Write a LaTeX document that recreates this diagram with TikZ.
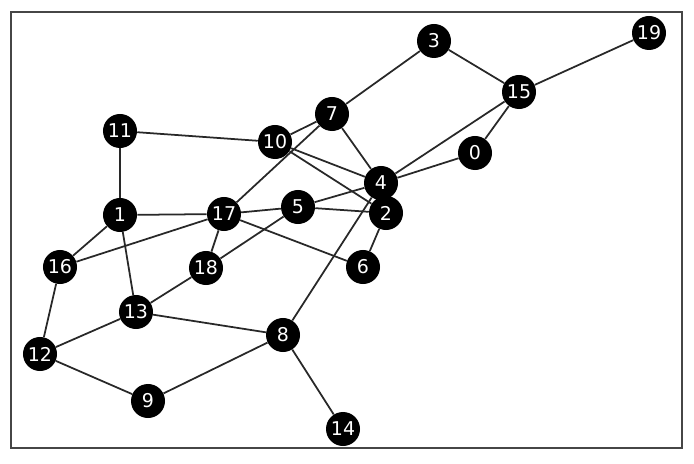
\documentclass[tikz,border=0pt]{standalone}
\usepackage{fontspec}
\setmainfont{DejaVu Sans}
\definecolor{edgegray}{RGB}{40, 40, 40}
\definecolor{framegray}{RGB}{70, 70, 70}

\begin{document}
\begin{tikzpicture}[x=0.025cm, y=-0.025cm,
    every node/.style={font=\fontsize{13.5}{15}\selectfont},
    vtx/.style={circle, fill=black, text=white, inner sep=0pt,
                minimum size=0.85cm},
    link/.style={draw=edgegray, line width=1.25pt}]
        \useasboundingbox (0,0) rectangle (694,464);
        \draw[framegray, line width=1.2pt] (11,12) rectangle (682,448);
        % vertices
        \node[vtx] (n0) at (475,153) {0};
        \node[vtx] (n1) at (120,215) {1};
        \node[vtx] (n2) at (386,213) {2};
        \node[vtx] (n3) at (434,41) {3};
        \node[vtx] (n4) at (381,183) {4};
        \node[vtx] (n5) at (298,207) {5};
        \node[vtx] (n6) at (363,267) {6};
        \node[vtx] (n7) at (332,114) {7};
        \node[vtx] (n8) at (283,335) {8};
        \node[vtx] (n9) at (148,401) {9};
        \node[vtx] (n10) at (275,142) {10};
        \node[vtx] (n11) at (120,131) {11};
        \node[vtx] (n12) at (40,354) {12};
        \node[vtx] (n13) at (136,312) {13};
        \node[vtx] (n14) at (343,429) {14};
        \node[vtx] (n15) at (519,92) {15};
        \node[vtx] (n16) at (60,267) {16};
        \node[vtx] (n17) at (224,214) {17};
        \node[vtx] (n18) at (206,268) {18};
        \node[vtx] (n19) at (649,33) {19};
        % edges
        \draw[link] (n3) -- (n7);
        \draw[link] (n3) -- (n15);
        \draw[link] (n15) -- (n19);
        \draw[link] (n15) -- (n0);
        \draw[link] (n15) -- (n4);
        \draw[link] (n0) -- (n4);
        \draw[link] (n7) -- (n10);
        \draw[link] (n7) -- (n4);
        \draw[link] (n7) -- (n17);
        \draw[link] (n11) -- (n10);
        \draw[link] (n11) -- (n1);
        \draw[link] (n10) -- (n4);
        \draw[link] (n10) -- (n2);
        \draw[link] (n4) -- (n5);
        \draw[link] (n4) -- (n8);
        \draw[link] (n5) -- (n2);
        \draw[link] (n5) -- (n17);
        \draw[link] (n5) -- (n18);
        \draw[link] (n2) -- (n6);
        \draw[link] (n17) -- (n6);
        \draw[link] (n17) -- (n1);
        \draw[link] (n17) -- (n16);
        \draw[link] (n17) -- (n18);
        \draw[link] (n1) -- (n16);
        \draw[link] (n1) -- (n13);
        \draw[link] (n16) -- (n12);
        \draw[link] (n13) -- (n18);
        \draw[link] (n13) -- (n12);
        \draw[link] (n13) -- (n8);
        \draw[link] (n12) -- (n9);
        \draw[link] (n9) -- (n8);
        \draw[link] (n8) -- (n14);
      \end{tikzpicture}
\end{document}
